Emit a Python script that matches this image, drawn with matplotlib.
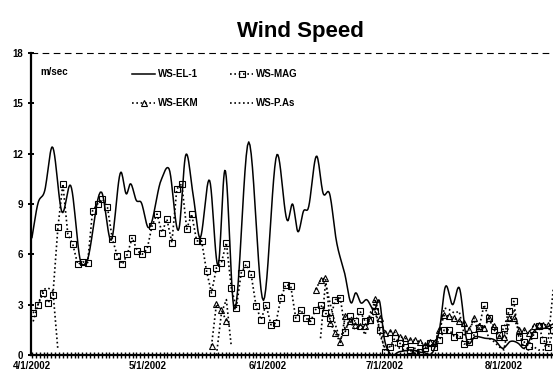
import numpy as np
import matplotlib
matplotlib.use("Agg")
import matplotlib.pyplot as plt

plt.rcParams['font.family'] = ['Liberation Sans', 'DejaVu Sans']
plt.rcParams['font.weight'] = 'bold'

# days since 4/1/2002, sample spacing of the station series
sample_day = np.arange(106) * 1.28 + 0.3

month_days = [0, 30, 61, 91, 122]
month_labels = ['4/1/2002', '5/1/2002', '6/1/2002', '7/1/2002', '8/1/2002']

# WS-EL-1, read at its turning points
el1_day = [0, 1.5, 3.3, 5.2, 7.8, 10.0, 12.6, 14.0, 18.0, 20.5, 23.0, 24.4, 25.4, 27.0,
           28.2, 30.0, 33.4, 35.4, 38.0, 39.7, 41.6, 43.3, 45.9, 48.2, 49.8, 52.1, 56.0,
           59.8, 63.3, 66.1, 67.3, 68.7, 70.2, 71.3, 73.6, 75.2, 76.9, 78.6, 80.8, 82.5,
           83.6, 85.0, 86.4, 88.5, 89.8, 91.0, 92.3, 95, 98, 101, 104, 105.4, 106.7, 108.7,
           110.4, 112.3, 114.5, 117, 119.5, 121.7, 123.5, 125.6, 127.0, 130.0, 132.5, 134.6]
el1_ws = [7.0, 9.0, 9.8, 12.4, 8.5, 10.1, 5.55, 5.5, 9.7, 6.85, 10.9, 9.6, 10.2, 9.2,
          9.1, 7.6, 10.45, 11.1, 7.55, 11.9, 9.6, 7.0, 10.4, 5.45, 11.0, 2.9, 12.7,
          3.25, 11.95, 8.0, 9.0, 7.35, 8.6, 8.7, 11.85, 9.65, 9.6, 6.85, 4.85, 3.1,
          3.7, 3.1, 3.3, 2.7, 3.2, 1.0, 0.15, 0.2, 0.3, 0.15, 0.4, 1.7, 4.0, 3.0,
          4.0, 0.9, 1.1, 1.0, 0.9, 0.4, 0.8, 0.7, 0.4, 1.5, 1.6, 1.85]

N = None
mag_ws = [2.5, 3.0, 3.7, 3.1, 3.6, 7.6, 10.2, 7.2, 6.6, 5.4,
          5.55, 5.5, 8.6, 9.0, 9.3, 8.8, 6.9, 5.9, 5.4, 6.0,
          7.0, 6.2, 6.0, 6.3, 7.7, 8.4, 7.3, 8.1, 6.7, 9.9,
          10.2, 7.5, 8.4, 6.8, 6.8, 5.0, 3.7, 5.2, 5.5, 6.7,
          4.0, 2.8, 4.9, 5.4, 4.8, 2.9, 2.1, 3.0, 1.8, 1.9,
          3.4, 4.2, 4.1, 2.2, 2.7, 2.2, 2.0, 2.7, 3.0, 2.5,
          2.2, 3.3, 3.4, 1.4, 2.3, 2.0, 2.6, 2.0, 2.1, 2.6,
          1.5, 0.2, 0.5, 1.0, 0.7, 0.5, 0.3, 0.1, 0.2, 0.4,
          0.7, 0.5, 0.9, 1.5, 1.5, 1.1, 1.2, 0.65, 0.8, 1.2,
          1.6, 3.0, 2.2, 1.5, 1.2, 1.6, 2.6, 3.2, 1.1, 0.8,
          0.55, 1.2, 1.7, 0.9, 0.45, 1.5]

ekm_ws = [N] * 36 + [0.55, 3.05, 2.7, 2.0] + [N] * 17 + \
         [3.9, 4.45, 4.6, 1.9, 1.3, 0.75, 2.3, 2.0, 1.8, 1.7,
          1.7, 2.1, 3.35, 2.2, 1.3, 1.4, 1.35, 1.1, 1.0, 0.9,
          0.9, 0.8, 0.6, 0.8, 0.7, 1.5, 2.4, 2.3, 2.2, 2.0,
          1.9, 1.5, 2.2, 1.7, 1.6, 2.2, 1.7, 1.1, 1.1, 2.2,
          2.2, 1.5, 1.5, 1.3, 1.75, 1.8, 1.8, 1.8, N]

pas_ws = [2.0, 3.0, 3.9, 4.0, 3.8, 0.3] + [N] * 31 + [0.0, 2.5, 3.3, 0.5] + [N] * 17 + \
         [1.0, 4.3, 3.0, 1.8, 0.9, 1.6, 2.0, 1.5, 1.8, 1.2,
          2.5, 3.0, 1.2, 0.4, 0.5, 0.6, 0.4, 0.3, 0.2, 0.4,
          0.3, 0.3, 0.5, 0.6, 1.5, 2.8, 2.7, 2.5, 2.6, 1.2,
          1.6, 2.0, 1.4, 1.8, 1.0, 0.8, 0.5, 0.3, 1.8, 2.7,
          1.6, 0.4, 0.3, 0.5, 0.3, 0.3, 1.0, 4.0]


def smooth(xs, ys, n=12):
    # cubic hermite through the points, like excel's smoothed line
    xs = np.asarray(xs, float)
    ys = np.asarray(ys, float)
    m = np.gradient(ys, xs)
    out_x, out_y = [], []
    for i in range(len(xs) - 1):
        h = xs[i + 1] - xs[i]
        t = np.linspace(0, 1, n, endpoint=False)
        h00 = 2 * t**3 - 3 * t**2 + 1
        h10 = t**3 - 2 * t**2 + t
        h01 = -2 * t**3 + 3 * t**2
        h11 = t**3 - t**2
        out_x.append(xs[i] + t * h)
        out_y.append(h00 * ys[i] + h10 * h * m[i] + h01 * ys[i + 1] + h11 * h * m[i + 1])
    out_x.append([xs[-1]])
    out_y.append([ys[-1]])
    return np.concatenate(out_x), np.concatenate(out_y)


def arr(v):
    return np.array([np.nan if a is None else a for a in v], float)


fig = plt.figure(figsize=(5.53, 3.74), dpi=100)
ax = fig.add_axes([31 / 553, 19 / 374, 522 / 553, 302 / 374])

dots = (0, (1, 1.6))
sx, sy = smooth(el1_day, el1_ws)
l_el, = ax.plot(sx, sy, color='black', lw=1.1, label='WS-EL-1', zorder=4)
l_mag, = ax.plot(sample_day, arr(mag_ws), color='black', lw=1.2, ls=dots, marker='s',
                 ms=4, mfc='none', mew=0.8, label='WS-MAG', zorder=3)
l_ekm, = ax.plot(sample_day, arr(ekm_ws), color='black', lw=1.2, ls=dots, marker='^',
                 ms=4, mfc='none', mew=0.8, label='WS-EKM', zorder=3)
l_pas, = ax.plot(sample_day, arr(pas_ws), color='black', lw=1.2, ls=dots,
                 label='WS-P.As', zorder=3)

ax.axhline(18, color='black', lw=0.8, ls=(0, (6, 4)), clip_on=False)

ax.set_xlim(-0.25, 134.6)
ax.set_ylim(0, 18)
ax.set_yticks(range(0, 19, 3))
ax.set_xticks(month_days)
ax.set_xticklabels(month_labels)
ax.set_xticks(np.arange(0, 135, 1), minor=True)

for s in ['top', 'right']:
    ax.spines[s].set_visible(False)
ax.spines['left'].set_linewidth(1.6)
ax.spines['bottom'].set_linewidth(1.6)
ax.tick_params(axis='y', direction='inout', length=5, width=1.4, pad=3, labelsize=7)
ax.tick_params(axis='x', which='both', direction='inout', length=5, width=1.0, pad=2,
               labelsize=7)

fig.text(300 / 553, 1 - 31 / 374, 'Wind Speed', ha='center', va='center',
         fontsize=16, fontweight='bold')
fig.text(40 / 553, 1 - 72 / 374, 'm/sec', ha='left', va='center', fontsize=7,
         fontweight='bold')

# legend fills by column, so order gives rows EL-1/MAG and EKM/P.As
fig.legend([l_el, l_ekm, l_mag, l_pas], ['WS-EL-1', 'WS-EKM', 'WS-MAG', 'WS-P.As'],
           loc='upper left', bbox_to_anchor=(132 / 553, 1 - 69 / 374), ncol=2,
           frameon=False, handlelength=2.4, handletextpad=0.3,
           columnspacing=3.2, labelspacing=2.0, borderpad=0, borderaxespad=0,
           numpoints=1, prop={'weight': 'bold', 'size': 7})

fig.savefig('out.png', dpi=100)
